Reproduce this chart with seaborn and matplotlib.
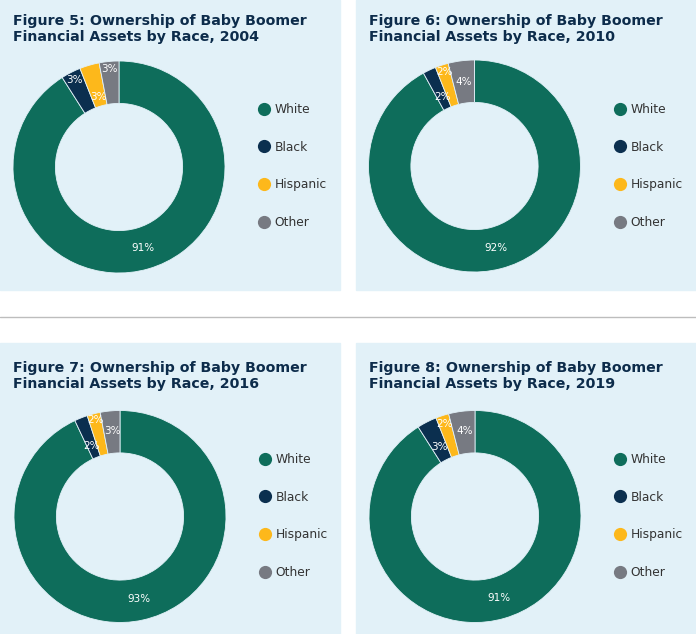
import numpy as np
import seaborn as sns
import matplotlib.pyplot as plt
from matplotlib.lines import Line2D
from matplotlib.patches import Rectangle

# data
races = ['White', 'Black', 'Hispanic', 'Other']
fig_nums = ['5', '6', '7', '8']
years = ['2004', '2010', '2016', '2019']
share_2004 = [91, 3, 3, 3]
share_2010 = [92, 2, 2, 4]
share_2016 = [93, 2, 2, 3]
share_2019 = [91, 3, 2, 4]
shares = [share_2004, share_2010, share_2016, share_2019]

colors = ['#0e6d5b', '#0b2f4f', '#fdb81b', '#777a82']
bg = '#e2f1f8'
navy = '#0d2c4b'

sns.set_theme(style='white')
plt.rcParams['font.family'] = ['DejaVu Sans']

W, H = 696, 634
R = 106  # donut outer radius in px

fig = plt.figure(figsize=(W / 100, H / 100), dpi=100)
fig.patch.set_facecolor('white')

# layout in pixels (y from top)
panels = [
    dict(box=(0, 0, 340, 290), centre=(119, 167), legend=(258, 103), title=(13, 25)),
    dict(box=(356, 0, 696, 290), centre=(474.5, 166), legend=(614, 103), title=(369, 25)),
    dict(box=(0, 343, 340, 634), centre=(120, 516.5), legend=(259, 453), title=(13, 372)),
    dict(box=(356, 343, 696, 634), centre=(475, 516.5), legend=(614, 453), title=(369, 372)),
]
# radial position of each value label, as a fraction of the outer radius
label_r = [
    [0.80, 0.92, 0.69, 0.93],
    [0.80, 0.72, 0.93, 0.80],
    [0.80, 0.72, 0.94, 0.81],
    [0.80, 0.74, 0.92, 0.81],
]

base = fig.add_axes([0, 0, 1, 1])
base.set_xlim(0, W)
base.set_ylim(H, 0)
base.axis('off')
base.axhline(317, color='#bdbdbd', lw=1)

handles = [Line2D([], [], marker='o', linestyle='', markersize=9.5,
                  markerfacecolor=c, markeredgewidth=0) for c in colors]

for i, p in enumerate(panels):
    x0, y0, x1, y1 = p['box']
    base.add_patch(Rectangle((x0, y0), x1 - x0, y1 - y0, color=bg, zorder=0))

    # two-weight title
    tx, ty = p['title']
    t1 = base.text(tx, ty, f'Figure {fig_nums[i]}:', color=navy, fontsize=10.2,
                   fontweight='heavy', va='baseline')
    base.annotate(' Ownership of Baby Boomer', xy=(1, 0), xycoords=t1,
                  va='bottom', ha='left', color=navy, fontsize=10.2, fontweight='bold')
    base.text(tx, ty + 16, f'Financial Assets by Race, {years[i]}', color=navy,
              fontsize=10.2, fontweight='bold', va='baseline')

    cx, cy = p['centre']
    ax = fig.add_axes([(cx - R) / W, 1 - (cy + R) / H, 2 * R / W, 2 * R / H])
    ax.set_facecolor('none')
    wedges, _ = ax.pie(shares[i], colors=colors, startangle=90, counterclock=False,
                       radius=1, wedgeprops=dict(width=0.4, edgecolor=bg, linewidth=0.6))
    ax.set_xlim(-1, 1)
    ax.set_ylim(-1, 1)
    ax.set_aspect('equal')
    ax.axis('off')

    for w, v, r in zip(wedges, shares[i], label_r[i]):
        ang = np.deg2rad((w.theta1 + w.theta2) / 2)
        ax.text(r * np.cos(ang), r * np.sin(ang), f'{v}%', ha='center', va='center',
                color='white', fontsize=7.5)

    lx, ly = p['legend']
    ax.legend(handles, races, loc='upper left', bbox_to_anchor=(lx / W, 1 - ly / H),
              bbox_transform=fig.transFigure, frameon=False, fontsize=8.8,
              labelspacing=2.02, handlelength=1.0, handletextpad=0.35,
              borderpad=0, borderaxespad=0, labelcolor='#333333')

fig.savefig('out.png', dpi=100)
